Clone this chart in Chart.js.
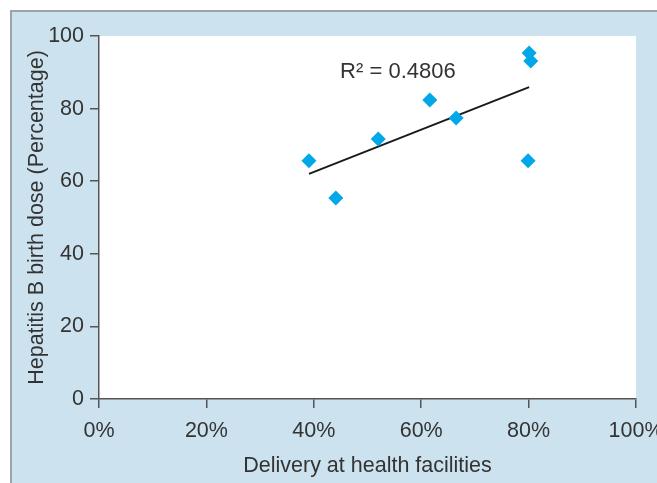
<!DOCTYPE html>
<html><head><meta charset="utf-8">
<script src="https://cdn.jsdelivr.net/npm/chart.js@4/dist/chart.umd.min.js"></script>
<style>
html,body{margin:0;padding:0;background:#fff;}
#frame{position:absolute;left:10px;top:10px;width:647px;height:473px;background:#cce3ef;border-left:2px solid #9da3a7;border-top:2px solid #9da3a7;box-sizing:border-box;}
#wrap{position:absolute;left:0;top:0;width:657px;height:483px;}
</style></head><body>
<div id="frame"></div>
<div id="wrap"><canvas id="c" width="657" height="483"></canvas></div>
<script>
// Data
const deliveryPct = [39.1, 44.1, 52.0, 61.6, 66.5, 80.1, 80.4, 79.9];
const hepBDose    = [65.6, 55.4, 71.6, 82.4, 77.4, 95.3, 93.1, 65.6];
const trendX = [39.1, 80.1];
const trendY = [62.0, 85.9];
const xTicks = [0, 20, 40, 60, 80, 100];
const yTicks = [0, 20, 40, 60, 80, 100];
const rSquaredText = 'R\u00B2 = 0.4806';
const xTitle = 'Delivery at health facilities';
const yTitle = 'Hepatitis B birth dose (Percentage)';

// layout / style (not data)
const labelAnchor = {x: 44.9, y: 88.4};
const FONT = '"Liberation Sans", Arial, sans-serif';
const TEXT = '#333333';
const AXIS = '#555555';

const points = deliveryPct.map((v, i) => ({x: v, y: hepBDose[i]}));
const trend = trendX.map((v, i) => ({x: v, y: trendY[i]}));

const bgPlugin = {
  id: 'bg',
  beforeDraw(chart) {
    const {ctx, chartArea: a} = chart;
    ctx.save();
    ctx.fillStyle = '#ffffff';
    ctx.fillRect(a.left, a.top, a.right - a.left, a.bottom - a.top);
    ctx.restore();
  },
  afterDatasetsDraw(chart) {
    const {ctx, scales} = chart;
    ctx.save();
    ctx.font = '22px ' + FONT;
    ctx.fillStyle = TEXT;
    ctx.textBaseline = 'alphabetic';
    ctx.textAlign = 'left';
    ctx.fillText(rSquaredText, scales.x.getPixelForValue(labelAnchor.x), scales.y.getPixelForValue(labelAnchor.y));
    ctx.restore();
  }
};

new Chart(document.getElementById('c'), {
  type: 'scatter',
  data: {
    datasets: [
      {
        type: 'line',
        data: trend,
        borderColor: '#1a1a1a',
        borderWidth: 2,
        pointRadius: 0,
        fill: false,
        order: 2
      },
      {
        data: points,
        pointStyle: 'rectRot',
        pointRadius: 7.5,
        backgroundColor: '#00a8e8',
        borderColor: '#00a8e8',
        borderWidth: 0,
        order: 1
      }
    ]
  },
  options: {
    responsive: false,
    animation: false,
    layout: {padding: {left: 0, right: 21, top: 36, bottom: 0}},
    plugins: {legend: {display: false}, tooltip: {enabled: false}},
    scales: {
      x: {
        type: 'linear', min: 0, max: 100,
        afterBuildTicks(s) { s.ticks = xTicks.map(v => ({value: v})); },
        afterFit(s) { s.height = 84; s.paddingLeft = 0; s.paddingRight = 0; },
        grid: {drawOnChartArea: false, drawTicks: true, tickLength: 9, color: AXIS, lineWidth: 1.5},
        border: {display: true, color: AXIS, width: 1.5},
        ticks: {color: TEXT, font: {family: FONT, size: 21.5}, padding: 10, maxRotation: 0, autoSkip: false,
                callback: v => v + '%'},
        title: {display: true, text: xTitle, color: TEXT, font: {family: FONT, size: 21.5},
                padding: {top: 0, bottom: 4}}
      },
      y: {
        type: 'linear', min: 0, max: 100,
        afterBuildTicks(s) { s.ticks = yTicks.map(v => ({value: v})); },
        afterFit(s) { s.width = 99; s.paddingTop = 0; s.paddingBottom = 0; },
        grid: {drawOnChartArea: false, drawTicks: true, tickLength: 9, color: AXIS, lineWidth: 1.5},
        border: {display: true, color: AXIS, width: 1.5},
        ticks: {color: TEXT, font: {family: FONT, size: 21.5}, padding: 6, autoSkip: false},
        title: {display: true, text: yTitle, color: TEXT, font: {family: FONT, size: 21.5},
                padding: {top: 24, bottom: 0}}
      }
    }
  },
  plugins: [bgPlugin]
});
</script>
</body></html>
